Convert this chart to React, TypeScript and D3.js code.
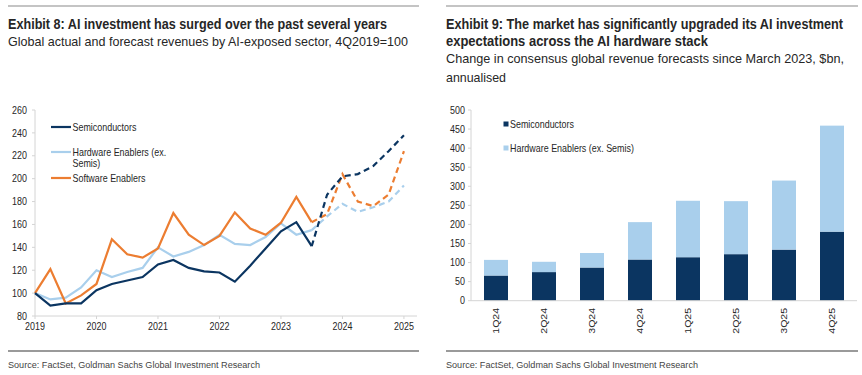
import React from 'react';
import * as d3 from 'd3';

// ---------- Data: Exhibit 8 (quarterly index, 4Q2019 = 100) ----------
const yearLabels = ['2019', '2020', '2021', '2022', '2023', '2024', '2025'];
const semis = [100, 89, 91, 91, 102.5, 108, 111, 114, 125, 129, 122, 119, 118, 110, 124, 139, 154, 162, 141, 186, 202, 204, 211, 224, 238];
const hardware = [100, 94.5, 96, 105, 120, 114, 118.5, 122, 140, 132, 136, 142, 151, 143, 142, 149, 161, 151, 155, 167, 178, 171, 175, 180, 194];
const software = [100, 121, 91, 98, 108, 147, 134, 131, 139, 170, 151, 142, 150, 170.5, 156.5, 151, 161.5, 184, 162, 169, 204, 180, 176, 186, 224];
const lastActual = 18;
const lineYTicks = [80, 100, 120, 140, 160, 180, 200, 220, 240, 260];

// ---------- Data: Exhibit 9 ($bn) ----------
const barCats = ['1Q24', '2Q24', '3Q24', '4Q24', '1Q25', '2Q25', '3Q25', '4Q25'];
const barSemis = [66, 75, 87, 108, 114, 122, 134, 181];
const barHardware = [41, 27, 38, 98, 148, 139, 181, 278];
const barYTicks = [0, 50, 100, 150, 200, 250, 300, 350, 400, 450, 500];

const NAVY = '#0b3561';
const LIGHT = '#a9cfec';
const ORANGE = '#ec7d31';
const FONT = '"Liberation Sans", Arial, sans-serif';
const TXT = '#262626';
const SX = 0.85; // horizontal condensing to mimic a narrow typeface

type NTProps = {
  x: number;
  y: number;
  children: React.ReactNode;
  size: number;
  anchor?: 'start' | 'middle' | 'end';
  weight?: string;
  fill?: string;
  dy?: string;
  width?: number;
  rotate?: number;
};

function NText({ x, y, children, size, anchor = 'start', weight = 'normal', fill = TXT, dy, width, rotate }: NTProps) {
  const tr = `translate(${x},${y})${rotate ? ` rotate(${rotate})` : ''} scale(${SX},1)`;
  return (
    <g transform={tr}>
      <text
        x={0}
        y={0}
        dy={dy}
        fontSize={size}
        fontWeight={weight}
        fill={fill}
        textAnchor={anchor}
        textLength={width ? width / SX : undefined}
        lengthAdjust={width ? 'spacingAndGlyphs' : undefined}
      >
        {children}
      </text>
    </g>
  );
}

export default function App() {
  // Left chart scales
  const xL = d3.scaleLinear().domain([0, 24.85]).range([35, 417]);
  const yL = d3.scaleLinear().domain([80, 260]).range([316, 110]);
  const line = d3
    .line<[number, number]>()
    .x((d) => xL(d[0]))
    .y((d) => yL(d[1]));
  const series = [
    { name: 'Hardware', values: hardware, color: LIGHT },
    { name: 'Software', values: software, color: ORANGE },
    { name: 'Semis', values: semis, color: NAVY },
  ];

  // Right chart scales
  const xB = d3.scaleBand<string>().domain(barCats).range([472, 856]).paddingInner(0.5).paddingOuter(0.25);
  const yB = d3.scaleLinear().domain([0, 500]).range([300.7, 110]);
  const stacked = d3.stack<any>().keys(['s', 'h'])(
    barCats.map((c, i) => ({ cat: c, s: barSemis[i], h: barHardware[i] }))
  );
  const barColors = [NAVY, LIGHT];

  return (
    <svg width={862} height={375} style={{ position: 'absolute', left: 0, top: 0, background: '#fff' }} fontFamily={FONT}>
      {/* top rules */}
      <line x1={8} x2={419} y1={6} y2={6} stroke="#8a8a8a" strokeWidth={1.2} />
      <line x1={446} x2={858} y1={6} y2={6} stroke="#8a8a8a" strokeWidth={1.2} />

      {/* Left titles */}
      <NText x={8} y={29} size={14} weight="bold" width={379}>
        Exhibit 8: AI investment has surged over the past several years
      </NText>
      <NText x={8} y={46} size={12.5} width={400}>
        Global actual and forecast revenues by AI-exposed sector, 4Q2019=100
      </NText>

      {/* Right titles */}
      <NText x={446} y={29} size={14} weight="bold" width={397}>
        Exhibit 9: The market has significantly upgraded its AI investment
      </NText>
      <NText x={446} y={45.5} size={14} weight="bold" width={262}>
        expectations across the AI hardware stack
      </NText>
      <NText x={446} y={63} size={12.5} width={398}>
        Change in consensus global revenue forecasts since March 2023, $bn,
      </NText>
      <NText x={446} y={81.5} size={12.5} width={60}>
        annualised
      </NText>

      {/* ---------- Left chart ---------- */}
      <g>
        <line x1={35} x2={35} y1={yL(260)} y2={yL(80)} stroke="#d4d4d4" />
        {lineYTicks.map((t) => (
          <g key={t}>
            <line x1={32} x2={35} y1={yL(t)} y2={yL(t)} stroke="#d4d4d4" />
            <NText x={27} y={yL(t)} dy="0.35em" anchor="end" size={10.5}>
              {t}
            </NText>
          </g>
        ))}
        <line x1={xL.range()[0]} x2={xL.range()[1]} y1={yL(80)} y2={yL(80)} stroke="#d4d4d4" />
        {yearLabels.map((lab, i) => (
          <g key={lab}>
            <line x1={xL(i * 4)} x2={xL(i * 4)} y1={yL(80)} y2={yL(80) + 3} stroke="#d4d4d4" />
            <NText x={xL(i * 4)} y={yL(80) + 14} anchor="middle" size={10.5}>
              {lab}
            </NText>
          </g>
        ))}
        {series.map((s) => {
          const pts = s.values.map((v, i) => [i, v] as [number, number]);
          return (
            <g key={s.name}>
              <path d={line(pts.slice(0, lastActual + 1)) || ''} fill="none" stroke={s.color} strokeWidth={2.2} />
              <path d={line(pts.slice(lastActual)) || ''} fill="none" stroke={s.color} strokeWidth={2.2} strokeDasharray="6 4" />
            </g>
          );
        })}
        {/* legend */}
        {[
          { label: ['Semiconductors'], color: NAVY, y: 127 },
          { label: ['Hardware Enablers (ex.', 'Semis)'], color: LIGHT, y: 152 },
          { label: ['Software Enablers'], color: ORANGE, y: 178 },
        ].map((l) => (
          <g key={l.label[0]}>
            <line x1={51} x2={71} y1={l.y} y2={l.y} stroke={l.color} strokeWidth={2.2} />
            {l.label.map((t, k) => (
              <NText key={t} x={72.5} y={l.y + k * 11.5} dy="0.35em" size={10.5}>
                {t}
              </NText>
            ))}
          </g>
        ))}
      </g>

      {/* ---------- Right chart ---------- */}
      <g>
        <line x1={471} x2={471} y1={yB(500)} y2={yB(0)} stroke="#d4d4d4" />
        {barYTicks.map((t) => (
          <g key={t}>
            <line x1={468} x2={471} y1={yB(t)} y2={yB(t)} stroke="#d4d4d4" />
            <NText x={465} y={yB(t)} dy="0.35em" anchor="end" size={10.5}>
              {t}
            </NText>
          </g>
        ))}
        {stacked.map((layer, li) => (
          <g key={li} fill={barColors[li]}>
            {layer.map((d, i) => (
              <rect
                key={i}
                x={xB(barCats[i])}
                width={xB.bandwidth()}
                y={yB(d[1])}
                height={yB(d[0]) - yB(d[1])}
              />
            ))}
          </g>
        ))}
        <line x1={471} x2={857} y1={yB(0)} y2={yB(0)} stroke="#d4d4d4" />
        {barCats.map((c) => (
          <g key={c} transform={`translate(${(xB(c) || 0) + xB.bandwidth() / 2},308) rotate(-90)`}>
            <text textAnchor="end" dy="0.35em" fontSize={10.5} fill={TXT} transform={`scale(1,${SX})`}>
              {c}
            </text>
          </g>
        ))}
        {/* legend */}
        <rect x={503.5} y={121.5} width={5} height={5} fill={NAVY} />
        <NText x={510} y={124} dy="0.35em" size={10.5}>
          Semiconductors
        </NText>
        <rect x={503.5} y={145.5} width={5} height={5} fill={LIGHT} />
        <NText x={510} y={148} dy="0.35em" size={10.5}>
          Hardware Enablers (ex. Semis)
        </NText>
      </g>

      {/* footers */}
      <line x1={8} x2={419} y1={351} y2={351} stroke="#9a9a9a" strokeWidth={2} />
      <line x1={446} x2={858} y1={351} y2={351} stroke="#9a9a9a" strokeWidth={2} />
      <NText x={8} y={368} size={9.5} fill="#444" width={252}>
        Source: FactSet, Goldman Sachs Global Investment Research
      </NText>
      <NText x={446} y={368} size={9.5} fill="#444" width={252}>
        Source: FactSet, Goldman Sachs Global Investment Research
      </NText>
    </svg>
  );
}
